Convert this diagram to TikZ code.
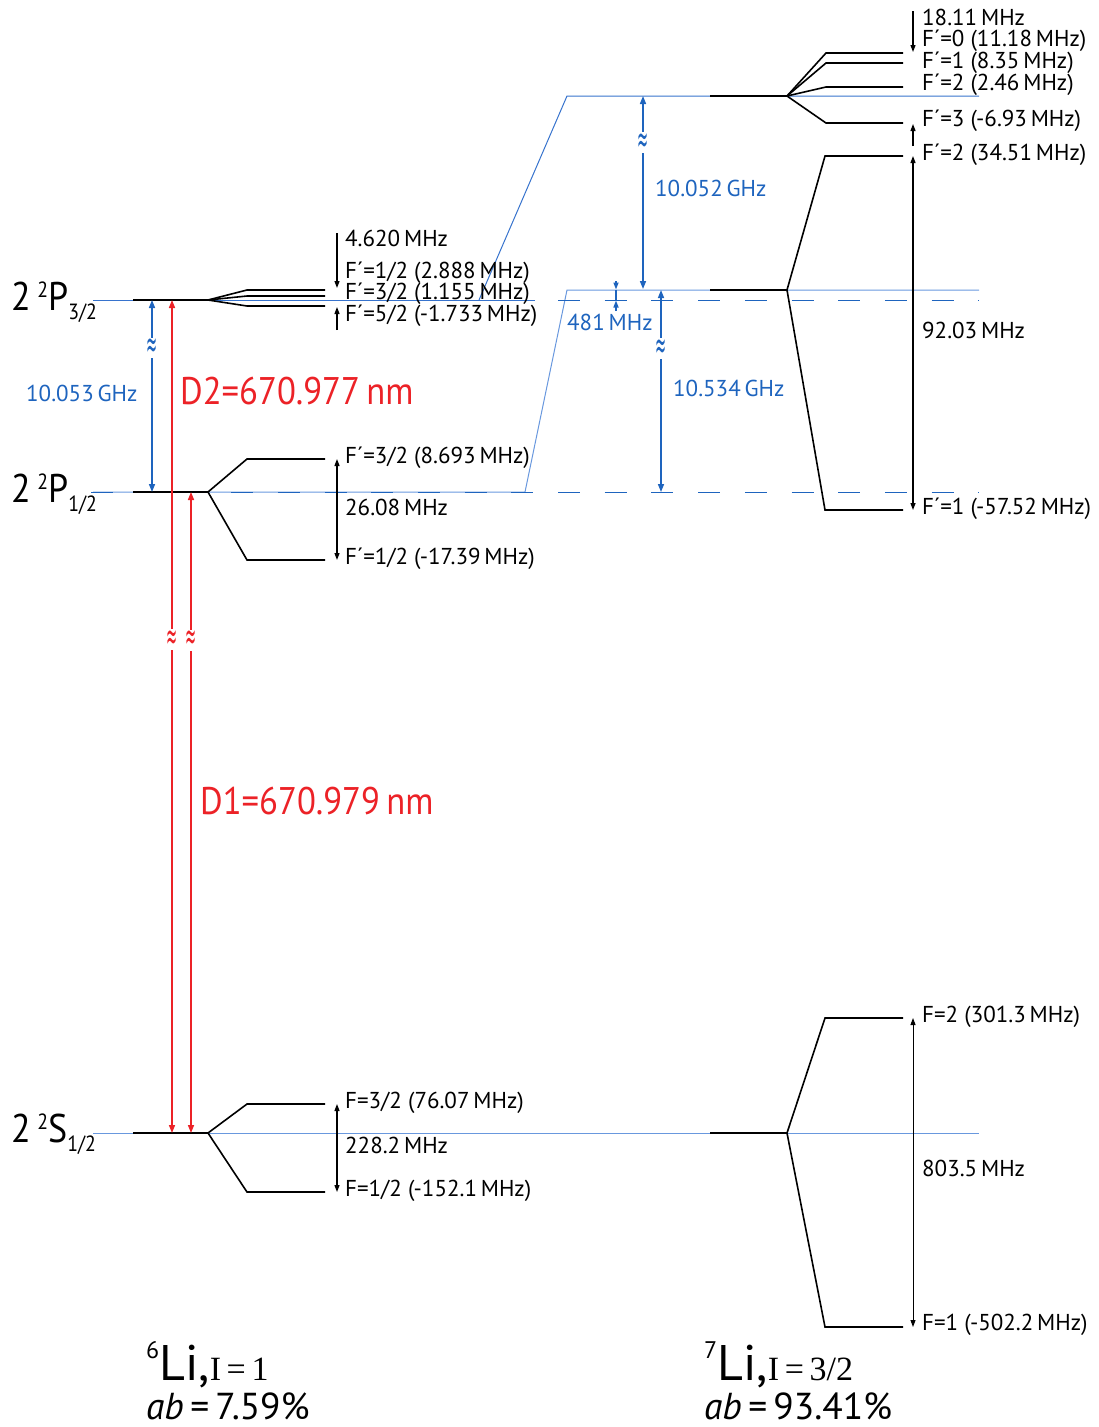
\documentclass[tikz,border=0pt]{standalone}
\usepackage{fontspec}
\setmainfont{PT Sans}
\newfontfamily\narrowfont{PT Sans}[FakeStretch=0.9]
\newfontfamily\symfont{DejaVu Sans}
\newfontfamily\serfont{Liberation Serif}
\usetikzlibrary{arrows.meta}
\definecolor{lblue}{RGB}{55,115,205}
\definecolor{pblue}{RGB}{105,152,222}
\definecolor{dblue}{RGB}{30,100,190}
\definecolor{lred}{RGB}{236,34,39}
\tikzset{
  lev/.style={line width=2pt,black},
  sub/.style={line width=1.6pt,black,line join=miter},
  bl/.style={line width=1pt,lblue},
  pbl/.style={line width=1pt,pblue},
  dsh/.style={line width=1pt,dblue,dash pattern=on 22pt off 24.7pt},
  tri/.style={-{Triangle[length=7pt,width=5pt]}},
  dtri/.style={{Triangle[length=7pt,width=5pt]}-{Triangle[length=7pt,width=5pt]}},
  blarr/.style={{Triangle[length=8pt,width=6pt]}-{Triangle[length=8pt,width=6pt]},line width=1.5pt,dblue},
  redarr/.style={{Triangle[length=8pt,width=6pt]}-{Triangle[length=8pt,width=6pt]},line width=1.5pt,lred},
  blkarr/.style={dtri,line width=1.2pt,black},
  lbl/.style={anchor=base west,inner sep=0pt,font=\fontsize{23}{23}\selectfont},
  bllbl/.style={lbl,text=dblue},
  biglbl/.style={anchor=base west,inner sep=0pt,text=lred,font=\narrowfont\fontsize{38.5}{38.5}\selectfont},
  apx/.style={fill=white,inner xsep=0.5pt,inner ysep=1pt,font=\symfont\fontsize{24}{24}\selectfont},
  term/.style={anchor=base west,inner sep=0pt,font=\narrowfont\fontsize{40}{40}\selectfont},
}
\newcommand{\apxsym}{\scalebox{0.55}[1.6]{≈}}
\begin{document}
\begin{tikzpicture}[x=1pt,y=-1pt]
\useasboundingbox (0,0) rectangle (1099,1427);

% ---------- blue guide lines ----------
\draw[bl] (93,300) -- (535,300);
\draw[bl] (479,300) -- (567,96) -- (979,96);
\draw[pbl] (93,492) -- (525,492) -- (567,290) -- (979,290);
\draw[dsh] (91,492) -- (979,492);
\draw[dsh] (558,300) -- (979,300);
\draw[pbl] (93,1133) -- (979,1133);

% ---------- 6Li levels ----------
\coordinate (LP3) at (208,300);
\draw[lev] (133,300) -- (LP3);
\draw[sub] (LP3) -- (247,290) -- (325,290);
\draw[sub] (LP3) -- (247,296) -- (325,296);
\draw[sub] (LP3) -- (247,306) -- (325,306);
\coordinate (LP1) at (208,492);
\draw[lev] (133,492) -- (LP1);
\draw[sub] (LP1) -- (247,459) -- (325,459);
\draw[sub] (LP1) -- (247,560) -- (325,560);
\coordinate (LS) at (208,1133);
\draw[lev] (133,1133) -- (LS);
\draw[sub] (LS) -- (247,1104) -- (325,1104);
\draw[sub] (LS) -- (247,1192) -- (325,1192);

% ---------- 7Li levels ----------
\coordinate (RP3) at (787,96);
\draw[lev] (710,96) -- (RP3);
\draw[sub] (RP3) -- (826,53) -- (903,53);
\draw[sub] (RP3) -- (826,63) -- (903,63);
\draw[sub] (RP3) -- (826,87) -- (903,87);
\draw[sub] (RP3) -- (826,123) -- (903,123);
\coordinate (RP1) at (787,290);
\draw[lev] (710,290) -- (RP1);
\draw[sub] (RP1) -- (825,156) -- (903,156);
\draw[sub] (RP1) -- (825,510) -- (903,510);
\coordinate (RS) at (787,1133);
\draw[lev] (710,1133) -- (RS);
\draw[sub] (RS) -- (825,1018) -- (903,1018);
\draw[sub] (RS) -- (825,1327) -- (903,1327);

% ---------- arrow end points ----------
\coordinate (a1s) at (337,233); \coordinate (a1e) at (337,288);
\coordinate (a2s) at (337,330); \coordinate (a2e) at (337,307);
\coordinate (a3s) at (337,459); \coordinate (a3e) at (337,560);
\coordinate (a4s) at (337,1104); \coordinate (a4e) at (337,1192);
\coordinate (b1s) at (913,11); \coordinate (b1e) at (913,52);
\coordinate (b2s) at (913,146); \coordinate (b2e) at (913,124);
\coordinate (b3s) at (913,156); \coordinate (b3e) at (913,510);
\coordinate (b4s) at (913,1018); \coordinate (b4e) at (913,1327);
\coordinate (c1s) at (152,300); \coordinate (c1e) at (152,492);
\coordinate (c2s) at (643,96); \coordinate (c2e) at (643,289);
\coordinate (c3s) at (661,290); \coordinate (c3e) at (661,492);
\coordinate (c4s) at (616,281); \coordinate (c4e) at (616,289.5);
\coordinate (c5s) at (616,311); \coordinate (c5e) at (616,300.5);
\coordinate (d2s) at (172,1133); \coordinate (d2e) at (172,300);
\coordinate (d1s) at (191,1133); \coordinate (d1e) at (191,492);

% ---------- black arrows ----------
\draw[tri,line width=1.2pt] (a1s) -- (a1e);
\draw[tri,line width=1.2pt] (a2s) -- (a2e);
\draw[blkarr] (a3s) -- (a3e);
\draw[blkarr] (a4s) -- (a4e);
\draw[tri,line width=1.2pt] (b1s) -- (b1e);
\draw[tri,line width=1.2pt] (b2s) -- (b2e);
\draw[blkarr] (b3s) -- (b3e);
\draw[blkarr,line width=0.9pt] (b4s) -- (b4e);

% ---------- blue arrows ----------
\draw[blarr] (c1s) -- (c1e) node[apx,text=dblue,pos=0.25] (x1) {\apxsym};
\draw[blarr] (c2s) -- (c2e) node[apx,text=dblue,pos=0.243] (x2) {\apxsym};
\draw[blarr] (c3s) -- (c3e) node[apx,text=dblue,pos=0.29] (x3) {\apxsym};
\draw[tri,line width=1.5pt,dblue] (c4s) -- (c4e);
\draw[tri,line width=1.5pt,dblue] (c5s) -- (c5e);
\draw[line width=1.5pt,dblue] (c4e) -- (c5e);

% ---------- red arrows ----------
\draw[redarr] (d2s) -- (d2e) node[apx,text=lred,pos=0.592] (x4) {\apxsym};
\draw[redarr] (d1s) -- (d1e) node[apx,text=lred,pos=0.769] (x5) {\apxsym};

% ---------- term labels ----------
\node[term] (t1) at (11,310) {2\,\raisebox{13pt}{\fontsize{22}{22}\selectfont 2}P\raisebox{-9pt}{\fontsize{22}{22}\selectfont 3/2}};
\node[term] (t2) at (11,502) {2\,\raisebox{13pt}{\fontsize{22}{22}\selectfont 2}P\raisebox{-9pt}{\fontsize{22}{22}\selectfont 1/2}};
\node[term] (t3) at (11,1142) {2\,\raisebox{13pt}{\fontsize{22}{22}\selectfont 2}S\raisebox{-9pt}{\fontsize{22}{22}\selectfont 1/2}};

% ---------- 6Li labels ----------
\node[lbl] (l1) at (345,246) {4.620\,MHz};
\node[lbl] (l2) at (345,278) {F´=1/2 (2.888\,MHz)};
\node[lbl] (l3) at (345,299) {F´=3/2 (1.155\,MHz)};
\node[lbl] (l4) at (345,321) {F´=5/2 (-1.733\,MHz)};
\node[lbl] (l5) at (345,463) {F´=3/2 (8.693\,MHz)};
\node[lbl] (l6) at (345,515) {26.08\,MHz};
\node[lbl] (l7) at (345,564) {F´=1/2 (-17.39\,MHz)};
\node[lbl] (l8) at (345,1108) {F=3/2 (76.07\,MHz)};
\node[lbl] (l9) at (345,1153) {228.2\,MHz};
\node[lbl] (l10) at (345,1196) {F=1/2 (-152.1\,MHz)};

% ---------- 7Li labels ----------
\node[lbl] (r1) at (922,25) {18.11\,MHz};
\node[lbl] (r2) at (922,46) {F´=0 (11.18\,MHz)};
\node[lbl] (r3) at (922,68) {F´=1 (8.35\,MHz)};
\node[lbl] (r4) at (922,90) {F´=2 (2.46\,MHz)};
\node[lbl] (r5) at (922,126) {F´=3 (-6.93\,MHz)};
\node[lbl] (r6) at (922,160) {F´=2 (34.51\,MHz)};
\node[lbl] (r7) at (922,338) {92.03\,MHz};
\node[lbl] (r8) at (922,514) {F´=1 (-57.52\,MHz)};
\node[lbl] (r9) at (922,1022) {F=2 (301.3\,MHz)};
\node[lbl] (r10) at (922,1176) {803.5\,MHz};
\node[lbl] (r11) at (922,1330) {F=1 (-502.2\,MHz)};

% ---------- blue labels ----------
\node[bllbl] (g1) at (26,401) {10.053\,GHz};
\node[bllbl] (g2) at (655,196) {10.052\,GHz};
\node[bllbl] (g3) at (673,396) {10.534\,GHz};
\node[bllbl] (g4) at (567,330) {481\,MHz};

% ---------- red labels ----------
\node[biglbl] (D2) at (180,404) {D2=670.977\,nm};
\node[biglbl] (D1) at (200,814) {D1=670.979\,nm};

% ---------- isotope labels ----------
\node[anchor=base west,inner sep=0pt] (i6) at (146,1380) {\raisebox{22pt}{\fontsize{24}{24}\selectfont 6}\fontsize{50}{50}\selectfont Li,\serfont\fontsize{34}{34}\selectfont I\,=\,1};
\node[anchor=base west,inner sep=0pt] (a6) at (146,1419) {\fontsize{37.5}{37.5}\selectfont\itshape ab\upshape\,=\,7.59\%};
\node[anchor=base west,inner sep=0pt] (i7) at (704,1380) {\raisebox{22pt}{\fontsize{24}{24}\selectfont 7}\fontsize{50}{50}\selectfont Li,\serfont\fontsize{34}{34}\selectfont I\,=\,3/2};
\node[anchor=base west,inner sep=0pt] (a7) at (704,1419) {\fontsize{37.5}{37.5}\selectfont\itshape ab\upshape\,=\,93.41\%};
\end{tikzpicture}
\end{document}
